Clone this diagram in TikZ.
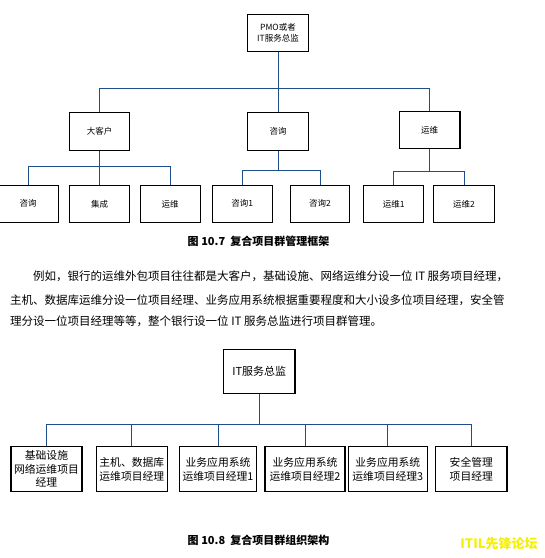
\documentclass[tikz,border=0pt]{standalone}
\usepackage{fontspec}
\setmainfont{Noto Sans CJK SC}
\XeTeXlinebreaklocale "zh"
\XeTeXlinebreakskip=0pt plus 1pt
\usetikzlibrary{positioning}
\definecolor{linkblue}{HTML}{1F4E8C}
\definecolor{itilyellow}{HTML}{F5F000}

\begin{document}
\begin{tikzpicture}[x=1pt,y=-1pt,
  box/.style={draw,line width=1.1pt,inner sep=0pt,align=center,
    minimum width=60.5,minimum height=37.2,font=\fontsize{8.5}{11.5}\selectfont},
  orgbox/.style={box,minimum height=45,font=\fontsize{10.8}{13.5}\selectfont},
  link/.style={draw=linkblue,line width=0.8pt},
  caption/.style={font=\fontsize{11}{13}\selectfont\bfseries},
  textline/.style={anchor=west,inner sep=0pt,font=\fontsize{11.5}{14}\selectfont}]
\useasboundingbox (0,0) rectangle (545,558);
% figure 10.7
\node[box] (pmo) at (278,33) {PMO或者\\IT服务总监};
\node[box] (kh) at (99.5,131.5) {大客户};
\node[box] (zx) at (278,131.5) {咨询};
\node[box] (yw) at (429.7,129.8) {运维};
\node[box,minimum width=60.3] (a1) at (28.2,203.8) {咨询};
\node[box] (a2) at (99.5,203.8) {集成};
\node[box,minimum width=59.7] (a3) at (170.2,203.8) {运维};
\node[box,minimum width=59.7] (b1) at (242.2,203.8) {咨询1};
\node[box,minimum width=59.7] (b2) at (319.9,203.8) {咨询2};
\node[box,minimum width=60] (c1) at (393.7,203.8) {运维1};
\node[box,minimum width=60.6] (c2) at (464,203.8) {运维2};
\draw[link] (pmo.south) -- ++(0,36.6) coordinate (j0);
\draw[link] (j0) -| (kh.north);
\draw[link] (j0) -| (yw.north);
\draw[link] (j0) -- (zx.north);
\draw[link] (kh.south) -- ++(0,15.4) coordinate (j1);
\draw[link] (j1) -| (a1.north);
\draw[link] (j1) -- (a2.north);
\draw[link] (j1) -| (a3.north);
\draw[link] (zx.south) -- ++(0,20) coordinate (j2);
\draw[link] (j2) -| (b1.north);
\draw[link] (j2) -| (b2.north);
\draw[link] (yw.south) -- ++(0,22) coordinate (j3);
\draw[link] (j3) -| (c1.north);
\draw[link] (j3) -| (c2.north);
\node[caption] (cap1) at (258.5,241.5) {图 10.7\ \ 复合项目群管理框架};
% text between the figures
\node[textline] (p1) at (33,276) {\makebox[475pt][s]{例如，银行的运维外包项目往往都是大客户，基础设施、网络运维分设一位 IT 服务项目经理，}};
\node[textline] (p2) at (10,300.7) {\makebox[498pt][s]{主机、数据库运维分设一位项目经理、业务应用系统根据重要程度和大小设多位项目经理，安全管}};
\node[textline] (p3) at (10,321.7) {理分设一位项目经理等等，整个银行设一位 IT 服务总监进行项目群管理。};
% figure 10.8
\node[box,minimum width=71.3,minimum height=44,font=\fontsize{11}{13}\selectfont] (itd) at (259.3,371.3) {IT服务总监};
\node[orgbox,minimum width=71] (m1) at (46.5,469.2) {基础设施\\网络运维项目\\经理};
\node[orgbox,minimum width=71] (m2) at (131.8,469.2) {主机、数据库\\运维项目经理};
\node[orgbox,minimum width=76.6] (m3) at (218,469.2) {业务应用系统\\运维项目经理1};
\node[orgbox,minimum width=80] (m4) at (305,469.2) {业务应用系统\\运维项目经理2};
\node[orgbox,minimum width=79] (m5) at (387.8,469.2) {业务应用系统\\运维项目经理3};
\node[orgbox,minimum width=71.3] (m6) at (471.3,469.2) {安全管理\\项目经理};
\draw[link] (itd.south) -- ++(0,31) coordinate (j4);
\foreach \n in {m1,m2,m3,m4,m5,m6}
  \draw[link] (j4) -| (\n.north);
\node[caption] (cap2) at (258.5,540) {图 10.8\ \ 复合项目群组织架构};
\node[font=\fontsize{13}{13}\selectfont\bfseries,text=itilyellow] (logo) at (499,544) {ITIL先锋论坛};
\end{tikzpicture}
\end{document}
